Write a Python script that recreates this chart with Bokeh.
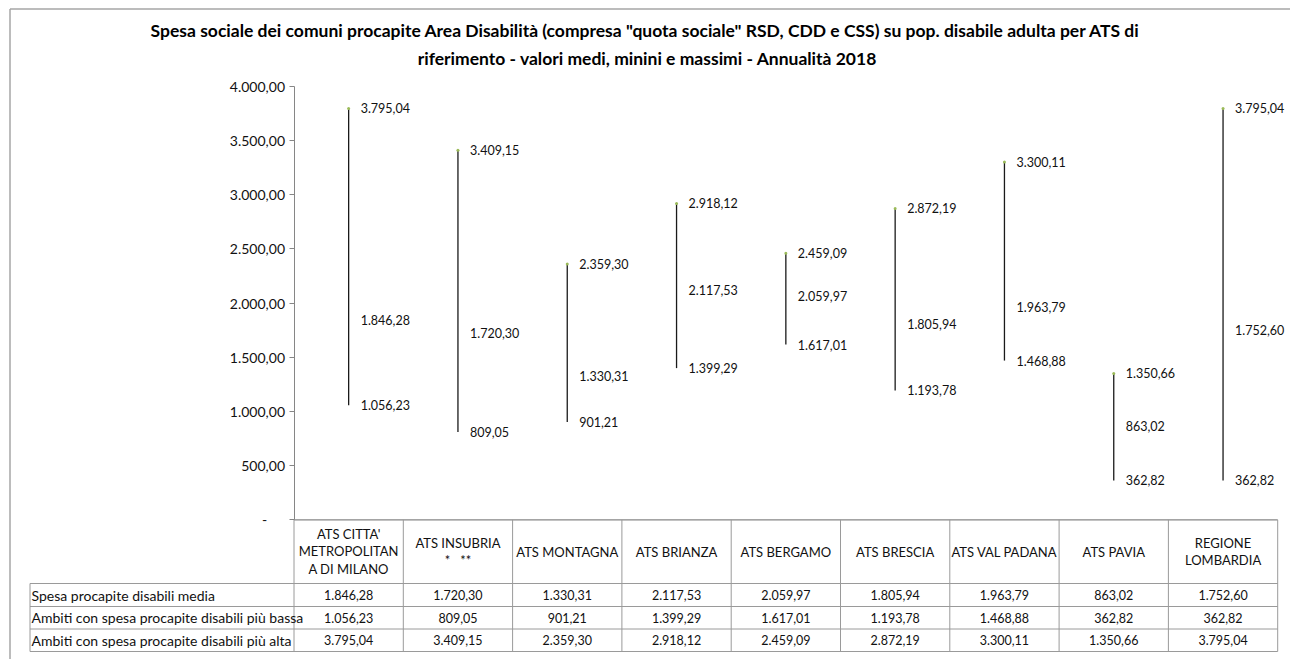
from bokeh.plotting import figure
from bokeh.models import ColumnDataSource, LinearAxis, FixedTicker, Range1d
from bokeh.embed import file_html
from bokeh.resources import INLINE
from bokeh.core.properties import value

# ---------------- data ----------------
categories = ["ATS CITTA'\nMETROPOLITAN\nA DI MILANO", "ATS INSUBRIA\n*\u00a0\u00a0\u00a0**", "ATS MONTAGNA",
              "ATS BRIANZA", "ATS BERGAMO", "ATS BRESCIA", "ATS VAL PADANA", "ATS PAVIA",
              "REGIONE\nLOMBARDIA"]
media = [1846.28, 1720.30, 1330.31, 2117.53, 2059.97, 1805.94, 1963.79, 863.02, 1752.60]
bassa = [1056.23, 809.05, 901.21, 1399.29, 1617.01, 1193.78, 1468.88, 362.82, 362.82]
alta = [3795.04, 3409.15, 2359.30, 2918.12, 2459.09, 2872.19, 3300.11, 1350.66, 3795.04]
row_labels = ["Spesa procapite disabili media",
              "Ambiti con spesa procapite disabili più bassa",
              "Ambiti con spesa procapite disabili più alta"]
y_ticks = [0, 500, 1000, 1500, 2000, 2500, 3000, 3500, 4000]
y_tick_labels = ["-\u00a0\u00a0\u00a0\u00a0\u00a0", "500,00", "1.000,00", "1.500,00", "2.000,00",
                 "2.500,00", "3.000,00", "3.500,00", "4.000,00"]
title_lines = ["Spesa sociale dei comuni procapite Area Disabilità (compresa \"quota sociale\" RSD,  CDD e CSS) su pop. disabile adulta per ATS di",
               "riferimento - valori medi, minini e massimi - Annualità 2018"]


def it(v):
    s = f"{v:,.2f}"
    return s.replace(",", "#").replace(".", ",").replace("#", ".")


# ---------------- layout (pixels) ----------------
W, H = 1290, 659
OX, OY = 0, 0
AX = 293.5        # page x of the category axis start
CW = 109.3        # category width in px
Y0 = 519.3        # page y of value 0
PPU = 54.2 / 500  # px per unit

def px(ax):
    return (ax - AX) / CW

def py(ay):
    return (Y0 - ay) / PPU

FONT = "Lato"

p = figure(width=W, height=H,
           x_range=Range1d(px(OX), px(OX + W)), y_range=Range1d(py(OY + H), py(OY)),
           min_border=0, min_border_left=0, min_border_right=0, min_border_top=0, min_border_bottom=0,
           toolbar_location=None, output_backend="svg",
           x_axis_type=None, y_axis_type=None, outline_line_color=None,
           background_fill_color="white", border_fill_color="white")

yaxis = LinearAxis(fixed_location=0, ticker=FixedTicker(ticks=y_ticks), bounds=(0, 4000),
                   major_label_overrides={t: l for t, l in zip(y_ticks, y_tick_labels)},
                   axis_line_color="#868686", major_tick_line_color="#868686",
                   major_tick_out=5, major_tick_in=0, minor_tick_out=0, minor_tick_in=0,
                   major_label_text_font=FONT, major_label_text_font_size="14px",
                   major_label_text_color="#111111", major_label_standoff=4)
p.add_layout(yaxis, "left")

xs = [i + 0.5 for i in range(len(categories))]
src = ColumnDataSource(dict(x=xs, media=media, bassa=bassa, alta=alta,
                            media_l=[it(v) for v in media], bassa_l=[it(v) for v in bassa],
                            alta_l=[it(v) for v in alta]))

# frame lines of the chart area
p.segment(x0=[px(9.5), px(9.5)], y0=[py(8.5), py(8.5)], x1=[px(OX + W), px(9.5)], y1=[py(8.5), py(OY + H)],
          line_color="#a6a6a6", line_width=1.5)

# high-low lines
p.segment(x0="x", y0="bassa", x1="x", y1="alta", source=src, line_color="#1a1a1a", line_width=1.3)
p.scatter(x="x", y="alta", source=src, size=3, color="#9bbb59", line_color=None)

lbl = dict(x_offset=12, text_baseline="middle", text_align="left", text_font=value(FONT),
           text_font_size="12.5px", text_color="#111111")
p.text(x="x", y="alta", text="alta_l", source=src, **lbl)
p.text(x="x", y="media", text="media_l", source=src, **lbl)
p.text(x="x", y="bassa", text="bassa_l", source=src, **lbl)

# ---------------- data table ----------------
n = len(categories)
row_edges = [583, 606, 628.5, 651]
grid_col = "#9a9a9a"
# x-axis line / table top
p.segment(x0=[0], y0=[0], x1=[n], y1=[0], line_color="#868686", line_width=1.3)
# vertical column lines
p.segment(x0=list(range(n + 1)), y0=[0] * (n + 1), x1=list(range(n + 1)), y1=[py(651)] * (n + 1),
          line_color=grid_col, line_width=1)
# row label column left border
p.segment(x0=[px(29.5)], y0=[py(583)], x1=[px(29.5)], y1=[py(651)], line_color=grid_col, line_width=1)
# horizontal row lines
p.segment(x0=[px(29.5)] * 4, y0=[py(r) for r in row_edges], x1=[n] * 4, y1=[py(r) for r in row_edges],
          line_color=grid_col, line_width=1)

tbl = dict(text_font=value(FONT), text_color="#111111", text_baseline="middle")
p.text(x=xs, y=[py(551)] * n, text=categories, text_align="center", text_line_height=1.1,
       text_font_size="13px", **tbl)
series = [media, bassa, alta]
for r in range(3):
    yc = py((row_edges[r] + row_edges[r + 1]) / 2)
    p.text(x=xs, y=[yc] * n, text=[it(v) for v in series[r]], text_align="center",
           text_font_size="12.5px", **tbl)
    p.text(x=[px(31)], y=[yc], text=[row_labels[r]], text_align="left", text_font_size="14px", **tbl)

# ---------------- title ----------------
p.text(x=[px(647)] * 2, y=[py(30), py(58)], text=title_lines, text_align="center", text_baseline="middle",
       text_font=value(FONT), text_font_size="17.5px", text_font_style="bold", text_color="#000000")

open("out.html", "w").write(file_html(p, INLINE))
